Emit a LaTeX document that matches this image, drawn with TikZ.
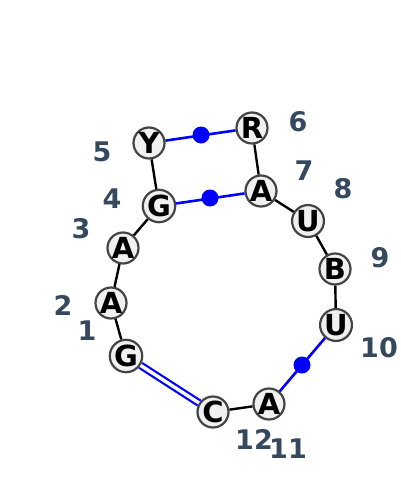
\documentclass[tikz,border=0pt]{standalone}
\usepackage{fontspec}
\setmainfont{DejaVu Sans}
\definecolor{numc}{HTML}{34495E}
\definecolor{nodefill}{HTML}{F0F0F0}
\definecolor{nodeline}{HTML}{444444}
\definecolor{pairblue}{HTML}{0000FF}
\begin{document}
\begin{tikzpicture}[x=1pt,y=-1pt,
  base/.style={circle,draw=nodeline,fill=nodefill,line width=2.2pt,minimum size=31pt,inner sep=0pt,font=\fontsize{29}{29}\selectfont\bfseries},
  num/.style={text=numc,font=\fontsize{27}{27}\selectfont\bfseries},
  bb/.style={black,line width=2.4pt},
  pr/.style={pairblue,line width=2.6pt},
  dot/.style={circle,fill=pairblue,inner sep=0pt,minimum size=17pt}]
\useasboundingbox (0,0) rectangle (400,493);
\coordinate (d1) at (201,135);
\coordinate (d2) at (210,198);
\coordinate (d3) at (302,365);
\node[base] (n1) at (126,356) {G};
\node[base] (n2) at (111,303) {A};
\node[base] (n3) at (123,248) {A};
\node[base] (n4) at (159,206) {G};
\node[base] (n5) at (149,143) {Y};
\node[base] (n6) at (252,128) {R};
\node[base] (n7) at (261,191) {A};
\node[base] (n8) at (308,221) {U};
\node[base] (n9) at (335,269) {B};
\node[base] (n10) at (336,325) {U};
\node[base] (n11) at (269,404) {A};
\node[base] (n12) at (213,412) {C};
\node[num] (l1) at (87,331) {1};
\node[num] (l2) at (63,305) {2};
\node[num] (l3) at (81,229) {3};
\node[num] (l4) at (112,199) {4};
\node[num] (l5) at (102,152) {5};
\node[num] (l6) at (298,122) {6};
\node[num] (l7) at (304,171) {7};
\node[num] (l8) at (343,189) {8};
\node[num] (l9) at (380,258) {9};
\node[num] (l10) at (379,348) {10};
\node[num] (l11) at (288,449) {11};
\node[num] (l12) at (254,439) {12};
\draw[bb] (n1) -- (n2);
\draw[bb] (n2) -- (n3);
\draw[bb] (n3) -- (n4);
\draw[bb] (n4) -- (n5);
\draw[bb] (n6) -- (n7);
\draw[bb] (n7) -- (n8);
\draw[bb] (n8) -- (n9);
\draw[bb] (n9) -- (n10);
\draw[bb] (n11) -- (n12);
\draw[pr] (n5) -- (n6);
\draw[pr] (n4) -- (n7);
\draw[pr] (n10) -- (n11);
\draw[pairblue,line width=2.2pt,double=white,double distance=3.4pt] (n1) -- (n12);
\node[dot] at (d1) {};
\node[dot] at (d2) {};
\node[dot] at (d3) {};
\end{tikzpicture}
\end{document}
